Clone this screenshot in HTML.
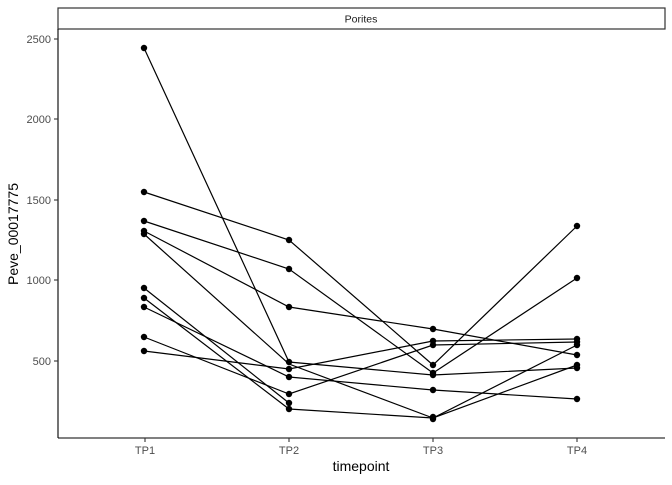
<!DOCTYPE html>
<html><head><style>body{margin:0;background:#fff}</style></head><body>
<svg width="672" height="480" xmlns="http://www.w3.org/2000/svg" font-family="Liberation Sans, sans-serif">
<rect x="58" y="8" width="607" height="21" fill="#fff" stroke="#333" stroke-width="1.2"/>
<text x="361" y="22.5" font-size="10.5" fill="#1a1a1a" text-anchor="middle">Porites</text>
<line x1="58" y1="29" x2="58" y2="438" stroke="#000" stroke-width="1.1"/>
<line x1="58" y1="438" x2="665" y2="438" stroke="#000" stroke-width="1.1"/>
<g stroke="#333" stroke-width="1.1">
<line x1="54" y1="39" x2="58" y2="39"/><line x1="54" y1="119" x2="58" y2="119"/><line x1="54" y1="200" x2="58" y2="200"/><line x1="54" y1="280" x2="58" y2="280"/><line x1="54" y1="361" x2="58" y2="361"/>
<line x1="145" y1="438" x2="145" y2="442"/><line x1="289" y1="438" x2="289" y2="442"/><line x1="433" y1="438" x2="433" y2="442"/><line x1="577" y1="438" x2="577" y2="442"/>
</g>
<g font-size="11" fill="#4d4d4d" text-anchor="end">
<text x="51" y="43">2500</text><text x="51" y="123">2000</text><text x="51" y="204">1500</text><text x="51" y="284">1000</text><text x="51" y="365">500</text>
</g>
<g font-size="11" fill="#4d4d4d" text-anchor="middle">
<text x="145" y="454">TP1</text><text x="289" y="454">TP2</text><text x="433" y="454">TP3</text><text x="577" y="454">TP4</text>
</g>
<text x="361" y="471" font-size="14" text-anchor="middle">timepoint</text>
<text transform="translate(18,234) rotate(-90)" font-size="14" text-anchor="middle">Peve_00017775</text>
<g fill="none" stroke="#000" stroke-width="1.2">
<polyline points="144,192 289,240 433,365 577,226"/>
<polyline points="144,221 289,269 433,373 577,278"/>
<polyline points="144,231 289,307 433,329 577,355"/>
<polyline points="144,48 289,362 433,375 577,368"/>
<polyline points="144,234 289,364 433,418 577,365"/>
<polyline points="144,298 289,409 433,418 577,345"/>
<polyline points="144,288 289,403"/>
<polyline points="144,307 289,377 433,390 577,399"/>
<polyline points="144,337 289,394 433,345 577,342"/>
<polyline points="144,351 289,369 433,341 577,339"/>
</g>
<g fill="#000">
<circle cx="144" cy="48" r="3.2"/><circle cx="144" cy="192" r="3.2"/><circle cx="144" cy="221" r="3.2"/><circle cx="144" cy="231" r="3.2"/><circle cx="144" cy="234" r="3.2"/><circle cx="144" cy="288" r="3.2"/><circle cx="144" cy="298" r="3.2"/><circle cx="144" cy="307" r="3.2"/><circle cx="144" cy="337" r="3.2"/><circle cx="144" cy="351" r="3.2"/>
<circle cx="289" cy="240" r="3.2"/><circle cx="289" cy="269" r="3.2"/><circle cx="289" cy="307" r="3.2"/><circle cx="289" cy="362" r="3.2"/><circle cx="289" cy="369" r="3.2"/><circle cx="289" cy="377" r="3.2"/><circle cx="289" cy="394" r="3.2"/><circle cx="289" cy="403" r="3.2"/><circle cx="289" cy="409" r="3.2"/>
<circle cx="433" cy="329" r="3.2"/><circle cx="433" cy="341" r="3.2"/><circle cx="433" cy="345" r="3.2"/><circle cx="433" cy="365" r="3.2"/><circle cx="433" cy="373" r="3.2"/><circle cx="433" cy="375" r="3.2"/><circle cx="433" cy="390" r="3.2"/><circle cx="433" cy="417" r="3.2"/><circle cx="433" cy="419" r="3.2"/>
<circle cx="577" cy="226" r="3.2"/><circle cx="577" cy="278" r="3.2"/><circle cx="577" cy="339" r="3.2"/><circle cx="577" cy="342" r="3.2"/><circle cx="577" cy="345" r="3.2"/><circle cx="577" cy="355" r="3.2"/><circle cx="577" cy="365" r="3.2"/><circle cx="577" cy="368" r="3.2"/><circle cx="577" cy="399" r="3.2"/>
</g>
</svg>
</body></html>
